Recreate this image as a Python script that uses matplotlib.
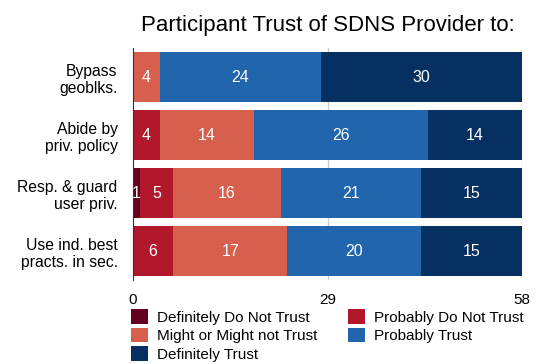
import numpy as np
import matplotlib.pyplot as plt

plt.rcParams['font.family'] = ['Liberation Sans', 'DejaVu Sans']

categories = ["Bypass\ngeoblks.", "Abide by\npriv. policy", "Resp. & guard\nuser priv.",
              "Use ind. best\npracts. in sec."]
series = ["Definitely Do Not Trust", "Probably Do Not Trust", "Might or Might not Trust",
          "Probably Trust", "Definitely Trust"]
values = [
    [0, 0, 1, 0],      # Definitely Do Not Trust
    [0, 4, 5, 6],      # Probably Do Not Trust
    [4, 14, 16, 17],   # Might or Might not Trust
    [24, 26, 21, 20],  # Probably Trust
    [30, 14, 15, 15],  # Definitely Trust
]
xticks = [0, 29, 58]
colors = ["#67001f", "#b2182b", "#d6604d", "#2166ac", "#053061"]

fig = plt.figure(figsize=(5.39, 3.64), dpi=100)
ax = fig.add_axes([133 / 539, 1 - 280 / 364, (522 - 133) / 539, (280 - 48) / 364])

y = np.arange(len(categories))
left = np.zeros(len(categories))
handles = []
for name, vals, col in zip(series, values, colors):
    vals = np.array(vals, dtype=float)
    bars = ax.barh(y, vals, left=left, height=0.845, color=col, label=name, zorder=2)
    handles.append(bars)
    for yi, v, l in zip(y, vals, left):
        if v > 0:
            ax.text(l + v / 2, yi, str(int(v)), ha='center', va='center',
                    color='white', fontsize=11.5, zorder=3)
    left += vals

ax.set_ylim(3.5, -0.5)
ax.set_xlim(0, 58)
ax.set_yticks(y)
ax.set_yticklabels(categories, fontsize=11.3, ha='right', multialignment='right')
ax.set_xticks(xticks)
ax.set_xticklabels([str(t) for t in xticks], fontsize=11)
ax.tick_params(axis='y', length=0, pad=11)
ax.tick_params(axis='x', length=0, pad=9)
for s in ['top', 'right', 'bottom']:
    ax.spines[s].set_visible(False)
ax.spines['left'].set_color('#333333')
for t in xticks[1:]:
    ax.axvline(t, color='#cccccc', lw=1, zorder=1)

ax.set_title("Participant Trust of SDNS Provider to:", fontsize=16, pad=12, x=0.5)

order = [0, 2, 4, 1, 3]
fig.legend([handles[i] for i in order], [series[i] for i in order], ncol=2,
           loc='upper left', bbox_to_anchor=(131 / 539, 1 - 309 / 364), frameon=False,
           fontsize=11, handlelength=1.1, handleheight=1.1, handletextpad=0.6,
           columnspacing=2.0, labelspacing=0.2, borderaxespad=0, borderpad=0)

fig.savefig("out.png", dpi=100)
